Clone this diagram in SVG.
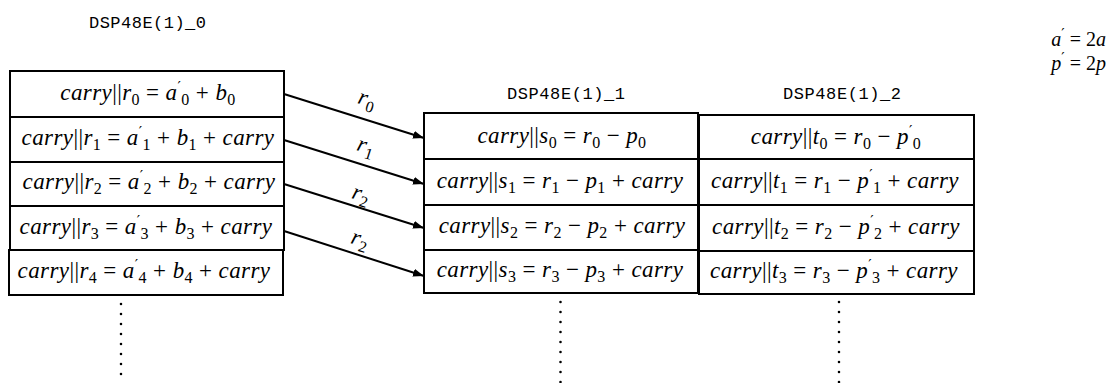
<svg xmlns="http://www.w3.org/2000/svg" width="1108" height="383" viewBox="0 0 1108 383">
<style>
.cell{fill:#fff;stroke:#000;stroke-width:2}
.m{font-family:"Liberation Serif","Times New Roman",serif;font-size:23px;fill:#000;letter-spacing:0.4px}
.n{font-family:"Liberation Serif","Times New Roman",serif;font-size:20px;fill:#000}
.i{font-style:italic}
.s{font-size:16px;font-style:normal}
.p{font-family:"DejaVu Serif",serif;font-size:15px;font-style:normal}
.hd{font-family:"Liberation Mono","DejaVu Sans Mono",monospace;font-size:17px;fill:#000}
.ar{stroke:#000;stroke-width:2;fill:none}
.dots{stroke:#000;stroke-width:2.6;stroke-linecap:round;stroke-dasharray:0 10}
</style>
<defs>
<marker id="ah" markerUnits="userSpaceOnUse" markerWidth="12" markerHeight="8" refX="11" refY="4" orient="auto">
<path d="M0,0 L11,4 L0,8 z" fill="#000"/>
</marker>
</defs>
<rect width="1108" height="383" fill="#fff"/>

<g id="headers">
<text class="hd" x="89" y="28" textLength="117" lengthAdjust="spacing">DSP48E(1)_0</text>
<text class="hd" x="507" y="99" textLength="118" lengthAdjust="spacing">DSP48E(1)_1</text>
<text class="hd" x="783" y="99" textLength="118" lengthAdjust="spacing">DSP48E(1)_2</text>
</g>

<g id="note">
<text class="n" x="1106" y="46" text-anchor="end"><tspan class="i">a</tspan><tspan class="p" dy="-7">′</tspan><tspan dy="7"> = 2</tspan><tspan class="i">a</tspan></text>
<text class="n" x="1106" y="70" text-anchor="end"><tspan class="i">p</tspan><tspan class="p" dy="-7">′</tspan><tspan dy="7"> = 2</tspan><tspan class="i">p</tspan></text>
</g>

<!-- Column 0 -->
<g id="r0">
<rect class="cell" x="10" y="71" width="274" height="46"/>
<text class="m" x="148" y="100" text-anchor="middle"><tspan class="i">carry</tspan>||<tspan class="i">r</tspan><tspan class="s" dy="5">0</tspan><tspan dy="-5"> = </tspan><tspan class="i">a</tspan><tspan class="p" dy="-8">′</tspan><tspan class="s" dy="13">0</tspan><tspan dy="-5"> + </tspan><tspan class="i">b</tspan><tspan class="s" dy="5">0</tspan></text>
</g>
<g id="r1">
<rect class="cell" x="10" y="117" width="274" height="45"/>
<text class="m" x="148" y="145" text-anchor="middle"><tspan class="i">carry</tspan>||<tspan class="i">r</tspan><tspan class="s" dy="5">1</tspan><tspan dy="-5"> = </tspan><tspan class="i">a</tspan><tspan class="p" dy="-8">′</tspan><tspan class="s" dy="13">1</tspan><tspan dy="-5"> + </tspan><tspan class="i">b</tspan><tspan class="s" dy="5">1</tspan><tspan dy="-5"> + </tspan><tspan class="i">carry</tspan></text>
</g>
<g id="r2">
<rect class="cell" x="10" y="162" width="274" height="44"/>
<text class="m" x="149" y="189" text-anchor="middle"><tspan class="i">carry</tspan>||<tspan class="i">r</tspan><tspan class="s" dy="5">2</tspan><tspan dy="-5"> = </tspan><tspan class="i">a</tspan><tspan class="p" dy="-8">′</tspan><tspan class="s" dy="13">2</tspan><tspan dy="-5"> + </tspan><tspan class="i">b</tspan><tspan class="s" dy="5">2</tspan><tspan dy="-5"> + </tspan><tspan class="i">carry</tspan></text>
</g>
<g id="r3">
<rect class="cell" x="10" y="206" width="274" height="44"/>
<text class="m" x="146" y="234" text-anchor="middle"><tspan class="i">carry</tspan>||<tspan class="i">r</tspan><tspan class="s" dy="5">3</tspan><tspan dy="-5"> = </tspan><tspan class="i">a</tspan><tspan class="p" dy="-8">′</tspan><tspan class="s" dy="13">3</tspan><tspan dy="-5"> + </tspan><tspan class="i">b</tspan><tspan class="s" dy="5">3</tspan><tspan dy="-5"> + </tspan><tspan class="i">carry</tspan></text>
</g>
<g id="r4">
<rect class="cell" x="9" y="250" width="274" height="45"/>
<text class="m" x="144" y="278" text-anchor="middle"><tspan class="i">carry</tspan>||<tspan class="i">r</tspan><tspan class="s" dy="5">4</tspan><tspan dy="-5"> = </tspan><tspan class="i">a</tspan><tspan class="p" dy="-8">′</tspan><tspan class="s" dy="13">4</tspan><tspan dy="-5"> + </tspan><tspan class="i">b</tspan><tspan class="s" dy="5">4</tspan><tspan dy="-5"> + </tspan><tspan class="i">carry</tspan></text>
</g>

<!-- Column 1 -->
<g id="s0">
<rect class="cell" x="424" y="113" width="274" height="46"/>
<text class="m" x="562" y="143" text-anchor="middle"><tspan class="i">carry</tspan>||<tspan class="i">s</tspan><tspan class="s" dy="5">0</tspan><tspan dy="-5"> = </tspan><tspan class="i">r</tspan><tspan class="s" dy="5">0</tspan><tspan dy="-5"> − </tspan><tspan class="i">p</tspan><tspan class="s" dy="5">0</tspan></text>
</g>
<g id="s1">
<rect class="cell" x="424" y="159" width="274" height="46"/>
<text class="m" x="560" y="188" text-anchor="middle"><tspan class="i">carry</tspan>||<tspan class="i">s</tspan><tspan class="s" dy="5">1</tspan><tspan dy="-5"> = </tspan><tspan class="i">r</tspan><tspan class="s" dy="5">1</tspan><tspan dy="-5"> − </tspan><tspan class="i">p</tspan><tspan class="s" dy="5">1</tspan><tspan dy="-5"> + </tspan><tspan class="i">carry</tspan></text>
</g>
<g id="s2">
<rect class="cell" x="424" y="205" width="274" height="45"/>
<text class="m" x="562" y="233" text-anchor="middle"><tspan class="i">carry</tspan>||<tspan class="i">s</tspan><tspan class="s" dy="5">2</tspan><tspan dy="-5"> = </tspan><tspan class="i">r</tspan><tspan class="s" dy="5">2</tspan><tspan dy="-5"> − </tspan><tspan class="i">p</tspan><tspan class="s" dy="5">2</tspan><tspan dy="-5"> + </tspan><tspan class="i">carry</tspan></text>
</g>
<g id="s3">
<rect class="cell" x="424" y="250" width="274" height="43"/>
<text class="m" x="560" y="277" text-anchor="middle"><tspan class="i">carry</tspan>||<tspan class="i">s</tspan><tspan class="s" dy="5">3</tspan><tspan dy="-5"> = </tspan><tspan class="i">r</tspan><tspan class="s" dy="5">3</tspan><tspan dy="-5"> − </tspan><tspan class="i">p</tspan><tspan class="s" dy="5">3</tspan><tspan dy="-5"> + </tspan><tspan class="i">carry</tspan></text>
</g>

<!-- Column 2 -->
<g id="t0">
<rect class="cell" x="699" y="115" width="275" height="44"/>
<text class="m" x="836" y="144" text-anchor="middle"><tspan class="i">carry</tspan>||<tspan class="i">t</tspan><tspan class="s" dy="5">0</tspan><tspan dy="-5"> = </tspan><tspan class="i">r</tspan><tspan class="s" dy="5">0</tspan><tspan dy="-5"> − </tspan><tspan class="i">p</tspan><tspan class="p" dy="-8">′</tspan><tspan class="s" dy="13">0</tspan></text>
</g>
<g id="t1">
<rect class="cell" x="699" y="159" width="275" height="46"/>
<text class="m" x="835" y="188" text-anchor="middle"><tspan class="i">carry</tspan>||<tspan class="i">t</tspan><tspan class="s" dy="5">1</tspan><tspan dy="-5"> = </tspan><tspan class="i">r</tspan><tspan class="s" dy="5">1</tspan><tspan dy="-5"> − </tspan><tspan class="i">p</tspan><tspan class="p" dy="-8">′</tspan><tspan class="s" dy="13">1</tspan><tspan dy="-5"> + </tspan><tspan class="i">carry</tspan></text>
</g>
<g id="t2">
<rect class="cell" x="699" y="205" width="275" height="46"/>
<text class="m" x="836" y="234" text-anchor="middle"><tspan class="i">carry</tspan>||<tspan class="i">t</tspan><tspan class="s" dy="5">2</tspan><tspan dy="-5"> = </tspan><tspan class="i">r</tspan><tspan class="s" dy="5">2</tspan><tspan dy="-5"> − </tspan><tspan class="i">p</tspan><tspan class="p" dy="-8">′</tspan><tspan class="s" dy="13">2</tspan><tspan dy="-5"> + </tspan><tspan class="i">carry</tspan></text>
</g>
<g id="t3">
<rect class="cell" x="699" y="251" width="275" height="43"/>
<text class="m" x="834" y="278" text-anchor="middle"><tspan class="i">carry</tspan>||<tspan class="i">t</tspan><tspan class="s" dy="5">3</tspan><tspan dy="-5"> = </tspan><tspan class="i">r</tspan><tspan class="s" dy="5">3</tspan><tspan dy="-5"> − </tspan><tspan class="i">p</tspan><tspan class="p" dy="-8">′</tspan><tspan class="s" dy="13">3</tspan><tspan dy="-5"> + </tspan><tspan class="i">carry</tspan></text>
</g>

<g id="connectors">
<line class="ar" x1="284" y1="94" x2="424" y2="138" marker-end="url(#ah)"/>
<line class="ar" x1="284" y1="140" x2="424" y2="184" marker-end="url(#ah)"/>
<line class="ar" x1="284" y1="184" x2="424" y2="228" marker-end="url(#ah)"/>
<line class="ar" x1="284" y1="231" x2="424" y2="276" marker-end="url(#ah)"/>
<text class="m" transform="translate(367,100) rotate(17.4)" text-anchor="middle" y="6"><tspan class="i">r</tspan><tspan class="s" dy="5">0</tspan></text>
<text class="m" transform="translate(366,147) rotate(17.4)" text-anchor="middle" y="6"><tspan class="i">r</tspan><tspan class="s" dy="5">1</tspan></text>
<text class="m" transform="translate(361,195) rotate(17.4)" text-anchor="middle" y="6"><tspan class="i">r</tspan><tspan class="s" dy="5">2</tspan></text>
<text class="m" transform="translate(360,240) rotate(17.4)" text-anchor="middle" y="6"><tspan class="i">r</tspan><tspan class="s" dy="5">2</tspan></text>
<line class="dots" x1="121" y1="304" x2="121" y2="384"/>
<line class="dots" x1="560.5" y1="302" x2="560.5" y2="384"/>
<line class="dots" x1="839" y1="302" x2="839" y2="384"/>
</g>
</svg>
